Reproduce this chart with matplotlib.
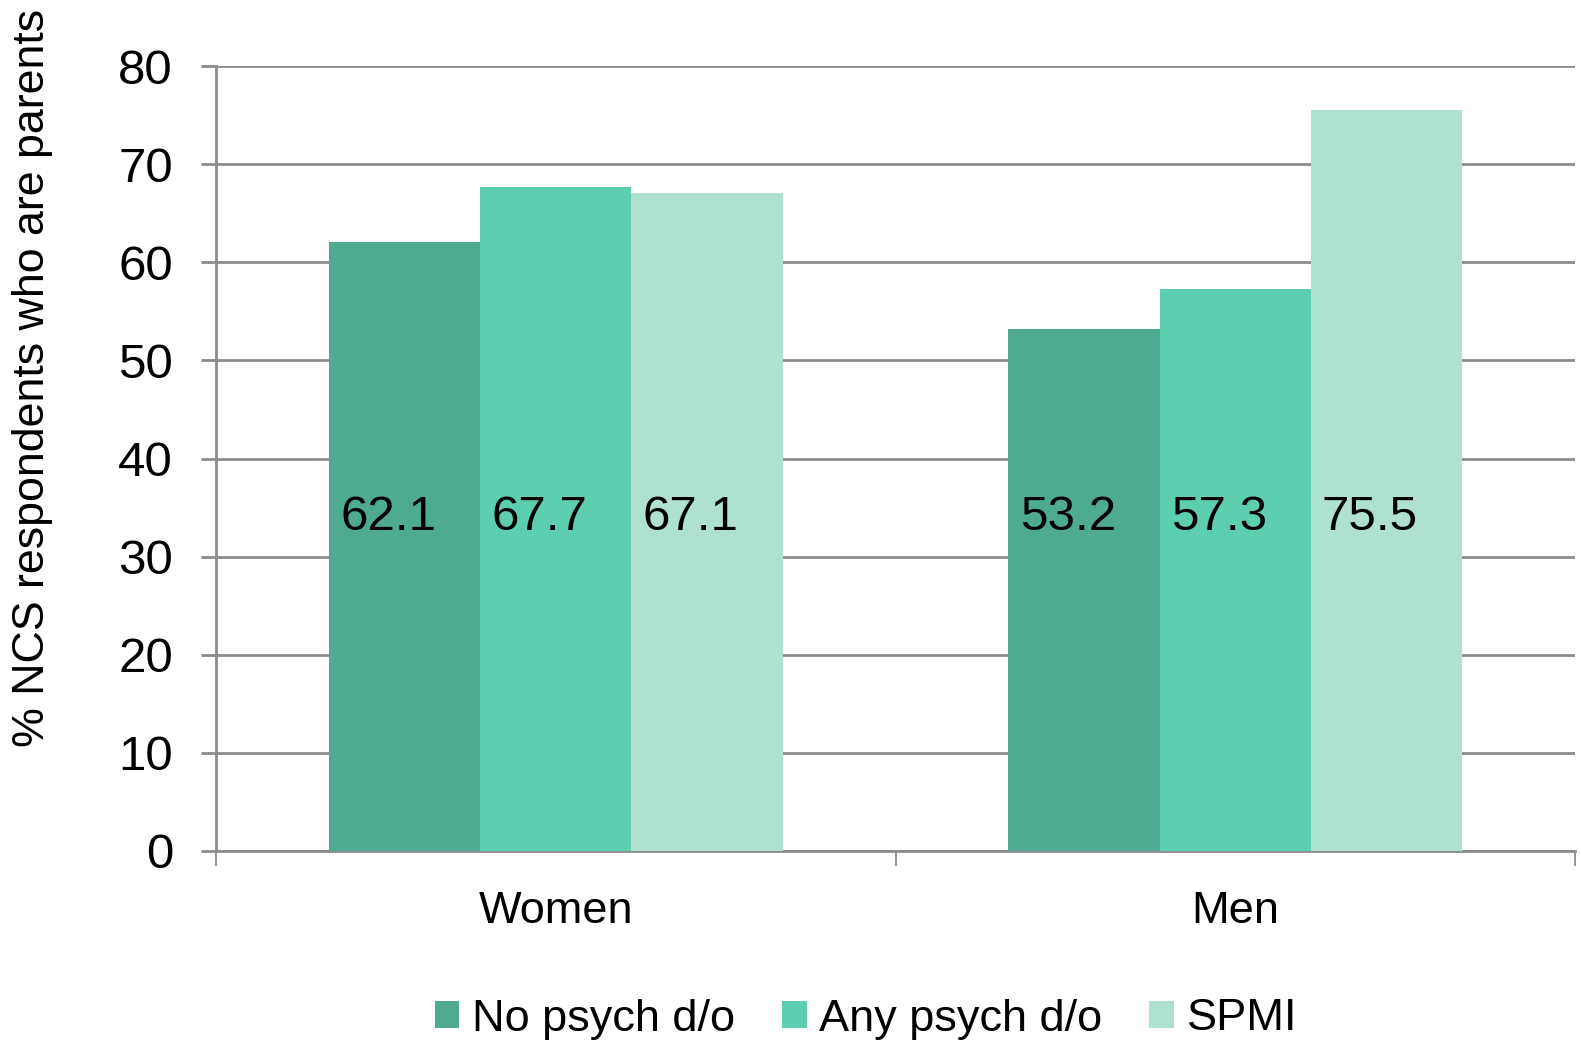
import matplotlib
matplotlib.use("Agg")
import matplotlib.pyplot as plt
import numpy as np
from matplotlib.patches import Patch

plt.rcParams['font.family'] = ['Liberation Sans', 'DejaVu Sans']

categories = ["Women", "Men"]
series_names = ["No psych d/o", "Any psych d/o", "SPMI"]
no_psych = [62.1, 53.2]
any_psych = [67.7, 57.3]
spmi = [67.1, 75.5]
series_values = [no_psych, any_psych, spmi]
colors = ["#4EAA90", "#5DCEB0", "#AFE1D1"]
y_ticks = [0, 10, 20, 30, 40, 50, 60, 70, 80]

fig = plt.figure(figsize=(15.81, 10.40), dpi=100)
ax = fig.add_axes([216/1581, 1-851/1040, (1575-216)/1581, (851-66)/1040])

x = np.arange(len(categories))
w = 0.2225
grid_col = "#8C8C8C"

for i, (vals, col) in enumerate(zip(series_values, colors)):
    pos = x + (i - 1) * w
    ax.bar(pos, vals, width=w, color=col, linewidth=0, zorder=3)
    for p, v in zip(pos, vals):
        ax.annotate(f"{v:.1f}", xy=(p - w/2, 34), xytext=(8, 0),
                    textcoords="offset points", ha="left", va="center",
                    fontsize=35.5, color="black", zorder=4)

ax.set_xlim(-0.5, 1.5)
ax.set_ylim(0, 80)
ax.set_yticks(y_ticks)
ax.set_yticklabels([str(t) for t in y_ticks], fontsize=35.5)
ax.yaxis.grid(True, color=grid_col, linewidth=2, zorder=0)
ax.set_axisbelow(True)

ax.set_xticks([-0.5, 0.5, 1.5])
ax.set_xticklabels([])
ax.set_xticks([0, 1], minor=True)
ax.set_xticklabels(categories, minor=True, fontsize=32.5)
ax.tick_params(axis='x', which='minor', length=0, pad=28.5)
ax.tick_params(axis='x', which='major', length=11, width=1.3, color=grid_col, direction='out')
ax.tick_params(axis='y', which='major', length=11, width=2, color=grid_col, direction='out', pad=20)

for s in ["top", "right"]:
    ax.spines[s].set_visible(False)
ax.spines["left"].set_color(grid_col)
ax.spines["left"].set_linewidth(2)
ax.spines["bottom"].set_color(grid_col)
ax.spines["bottom"].set_linewidth(2)

fig.text(33/1581, 1-378/1040, "% NCS respondents who are parents", rotation=90,
         ha="center", va="center", fontsize=32.2)

handles = [Patch(facecolor=c, edgecolor='none') for c in colors]
leg = fig.legend(handles, series_names, loc="center", bbox_to_anchor=(866/1581, 1-1019/1040),
                 ncol=3, frameon=False, fontsize=32.5, handlelength=0.55, handleheight=0.55,
                 handletextpad=0.28, columnspacing=1.04)

fig.savefig("out.png", dpi=100)
